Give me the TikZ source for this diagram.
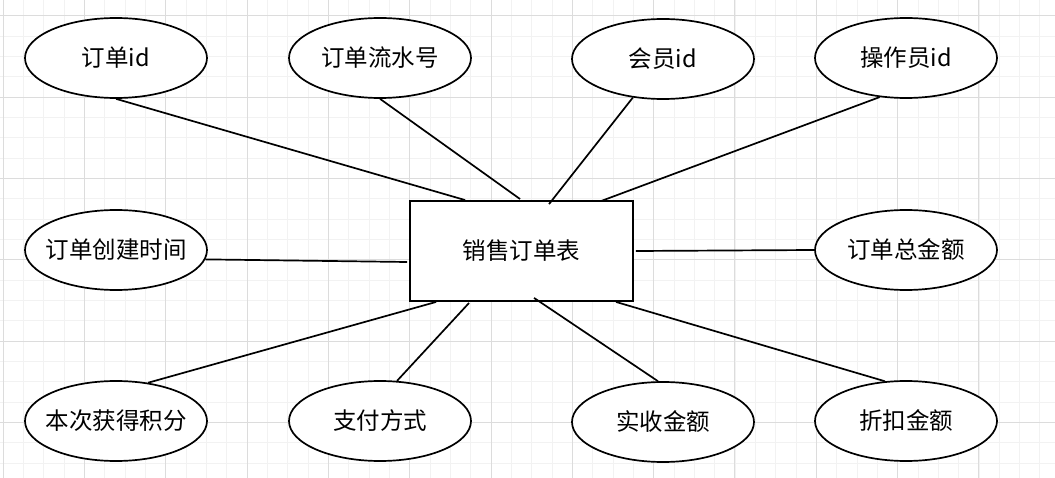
\documentclass[tikz,border=0pt]{standalone}
\usepackage{fontspec}
\usepackage{xcolor}
\usepackage{tikz}
\usetikzlibrary{calc,shapes.geometric}
\newfontfamily\cjk{Noto Sans CJK SC}
\definecolor{cGridMin}{HTML}{F2F2F2}
\definecolor{cGridMaj}{HTML}{DCDCDC}
\tikzset{
  attr/.style={ellipse, draw=black, line width=1.7pt, fill=white, minimum width=182pt,
               minimum height=80pt, inner xsep=-8pt, inner ysep=0pt, font=\cjk\fontsize{23.5}{28}\selectfont},
  entity/.style={rectangle, draw=black, line width=1.9pt, fill=white, minimum width=223pt,
                 minimum height=100pt, inner sep=0pt, font=\cjk\fontsize{23.5}{28}\selectfont},
  link/.style={line width=1.7pt, draw=black},
}

\begin{document}
\begin{tikzpicture}[x=1pt, y=-1pt]
  \useasboundingbox (0,0) rectangle (1055,478);
  % grid
  \foreach \i in {0,...,52} \draw[cGridMin, line width=0.7pt] (3+\i*20.33,0) -- (3+\i*20.33,478);
  \foreach \i in {0,...,24} \draw[cGridMin, line width=0.7pt] (0,-4.58+\i*20.33) -- (1055,-4.58+\i*20.33);
  \foreach \i in {0,...,12} \draw[cGridMaj, line width=0.8pt] (3+\i*81.32,0) -- (3+\i*81.32,478);
  \foreach \i in {0,...,5} \draw[cGridMaj, line width=0.8pt] (0,15.75+\i*81.32) -- (1055,15.75+\i*81.32);

  % entity and attributes
  \node[entity] (tbl) at (521.5,251) {销售订单表};
  \node[attr] (oid)   at (116,58)  {订单id};
  \node[attr] (serial) at (380,58) {订单流水号};
  \node[attr] (mem)   at (663,59)  {会员id};
  \node[attr] (opr)   at (906,58)  {操作员id};
  \node[attr] (ctime) at (116,250) {订单创建时间};
  \node[attr] (total) at (906,250) {订单总金额};
  \node[attr] (pts)   at (116,421) {本次获得积分};
  \node[attr] (pay)   at (380,421) {支付方式};
  \node[attr] (paid)  at (663,422) {实收金额};
  \node[attr] (disc)  at (906,421) {折扣金额};

  % links
  \draw[link] (oid.south) -- ($(tbl.north west)+(56,0)$);
  \draw[link] (serial.south) -- ($(tbl.north west)+(111,-1)$);
  \draw[link] (mem.232) -- ($(tbl.north west)+(140,4)$);
  \draw[link] (opr.236) -- ($(tbl.north west)+(192,1)$);
  \draw[link] (ctime.354) -- ($(tbl.west)+(-2,11)$);
  \draw[link] (total.west) -- ($(tbl.east)+(2,0)$);
  \draw[link] (pts.50) -- ($(tbl.south west)+(27,0)$);
  \draw[link] (pay.67) -- ($(tbl.south west)+(60,1)$);
  \draw[link] (paid.97) -- ($(tbl.south west)+(125,-4)$);
  \draw[link] (disc.118) -- ($(tbl.south west)+(207,0)$);
\end{tikzpicture}
\end{document}
